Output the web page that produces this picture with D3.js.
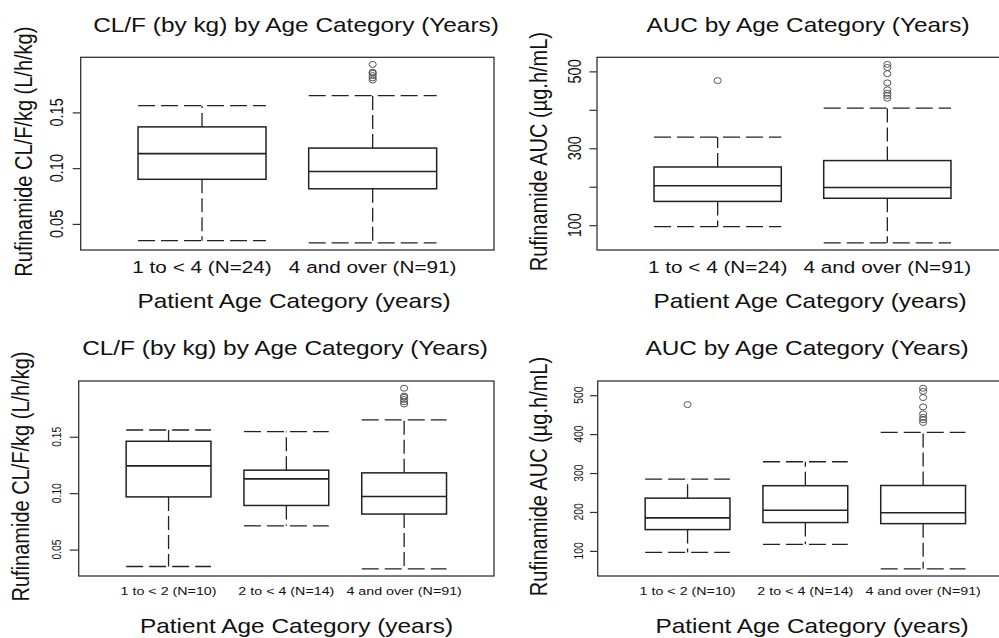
<!DOCTYPE html>
<html lang="en">
<head>
    <meta charset="UTF-8">
    <title>Rufinamide CL/F and AUC by age category</title>
    <style>
        body { margin: 0; background: #fff; }
        #chart { display: block; }
        text { font-family: "Liberation Sans", Arial, sans-serif; fill: #111; }
    </style>
</head>
<body>
    <svg id="chart" width="999" height="638"></svg>

    <script src="https://d3js.org/d3.v7.min.js"></script>
    <script>
        // categories
        const groupsTwo = ["1 to < 4 (N=24)", "4 and over (N=91)"];
        const groupsThree = ["1 to < 2 (N=10)", "2 to < 4 (N=14)", "4 and over (N=91)"];

        // box stats per group: [lower whisker, Q1, median, Q3, upper whisker]
        const clfTwo = [
            [0.035, 0.090, 0.113, 0.137, 0.156],
            [0.033, 0.0815, 0.097, 0.118, 0.165]
        ];
        const clfThree = [
            [0.035, 0.0967, 0.1242, 0.146, 0.156],
            [0.0711, 0.0891, 0.1127, 0.1204, 0.1546],
            [0.033, 0.0815, 0.097, 0.118, 0.165]
        ];
        const aucTwo = [
            [96, 161.8, 202.6, 251.3, 329],
            [54, 170, 198, 268, 404.4]
        ];
        const aucThree = [
            [96, 154.7, 184.9, 235.5, 284.5],
            [116.8, 172.8, 204.5, 267.5, 329],
            [54, 170, 198, 268, 404.4]
        ];

        // outliers per group
        const clfOutTwo = [[], [0.193, 0.186, 0.185, 0.183, 0.181, 0.179]];
        const clfOutThree = [[], [], [0.193, 0.186, 0.185, 0.183, 0.181, 0.179]];
        const aucOutTwo = [[476], [518, 510, 494, 470, 452, 443, 437, 430]];
        const aucOutThree = [[476], [], [518, 510, 494, 470, 452, 443, 437, 430]];

        // tick values and labels
        const clfTicks = [0.05, 0.10, 0.15];
        const clfTickLabels = ["0.05", "0.10", "0.15"];
        const aucTicks = [100, 200, 300, 400, 500];
        const aucTickLabelsTop = ["100", "", "300", "", "500"];
        const aucTickLabelsBottom = ["100", "200", "300", "400", "500"];

        const clfTitle = "CL/F (by kg) by Age Category (Years)";
        const aucTitle = "AUC by Age Category (Years)";
        const clfYLabel = "Rufinamide CL/F/kg (L/h/kg)";
        const aucYLabel = "Rufinamide AUC (\u00b5g.h/mL)";
        const xLabel = "Patient Age Category (years)";

        const svg = d3.select("#chart");
        const stretch = 1.22; // the original picture is a little wider than tall

        function label(g, txt, x, y, size, rotate) {
            g.append("text")
                .attr("transform", `translate(${x},${y}) scale(${stretch},1)` + (rotate ? " rotate(-90)" : ""))
                .attr("text-anchor", "middle")
                .style("font-size", size + "px")
                .text(txt);
        }

        function drawPanel(p) {
            const g = svg.append("g");

            const x = d3.scalePoint()
                .domain(p.groups)
                .range([p.left, p.right])
                .padding(p.pad);

            const all = p.stats.flat().concat(p.outliers.flat());
            const [lo, hi] = d3.extent(all);
            const ext = (hi - lo) * 0.04;
            const y = d3.scaleLinear()
                .domain([lo - ext, hi + ext])
                .range([p.bottom, p.top]);

            const bw = x.step() * p.boxFrac;

            // frame
            g.append("rect")
                .attr("x", p.left).attr("y", p.top)
                .attr("width", p.right - p.left).attr("height", p.bottom - p.top)
                .attr("fill", "none").attr("stroke", "#333").attr("stroke-width", 1.3);

            // y axis ticks
            const yAxis = d3.axisLeft(y)
                .tickValues(p.ticks)
                .tickSize(p.tickLen)
                .tickFormat("");
            const ax = g.append("g")
                .attr("transform", `translate(${p.left},0)`)
                .call(yAxis);
            ax.select(".domain").remove();
            ax.selectAll("line").attr("stroke", "#333").attr("stroke-width", 1.2);

            p.ticks.forEach((t, i) => {
                if (p.tickLabels[i]) label(g, p.tickLabels[i], p.left - p.labelGap, y(t), p.tickSize, true);
            });

            // boxes
            const boxes = g.selectAll(".box")
                .data(p.groups.map((k, i) => ({ k, s: p.stats[i], o: p.outliers[i] })))
                .enter().append("g").attr("class", "box");

            boxes.each(function (d) {
                const b = d3.select(this);
                const cx = x(d.k);
                const [w0, q1, md, q3, w1] = d.s;
                const dashV = "14,5";
                const dashH = "17,6";

                b.append("line")
                    .attr("x1", cx).attr("x2", cx).attr("y1", y(q3)).attr("y2", y(w1))
                    .attr("stroke", "#222").attr("stroke-width", 1.3).attr("stroke-dasharray", dashV);
                b.append("line")
                    .attr("x1", cx).attr("x2", cx).attr("y1", y(q1)).attr("y2", y(w0))
                    .attr("stroke", "#222").attr("stroke-width", 1.3).attr("stroke-dasharray", dashV);
                [w0, w1].forEach(v => {
                    b.append("line")
                        .attr("x1", cx - bw / 2).attr("x2", cx + bw / 2).attr("y1", y(v)).attr("y2", y(v))
                        .attr("stroke", "#222").attr("stroke-width", 1.3).attr("stroke-dasharray", dashH);
                });
                b.append("rect")
                    .attr("x", cx - bw / 2).attr("y", y(q3))
                    .attr("width", bw).attr("height", y(q1) - y(q3))
                    .attr("fill", "#fff").attr("stroke", "#222").attr("stroke-width", 1.5);
                b.append("line")
                    .attr("x1", cx - bw / 2).attr("x2", cx + bw / 2).attr("y1", y(md)).attr("y2", y(md))
                    .attr("stroke", "#222").attr("stroke-width", 1.6);

                b.selectAll("ellipse").data(d.o).enter().append("ellipse")
                    .attr("cx", cx).attr("cy", v => y(v))
                    .attr("rx", 3.6).attr("ry", 3)
                    .attr("fill", "none").attr("stroke", "#555").attr("stroke-width", 1);

                label(b, d.k, cx, p.catY, p.catSize, false);
            });

            label(g, p.title, p.titleX, p.titleY, 20, false);
            label(g, xLabel, p.xLabelX, p.xLabelY, 20, false);
            label(g, p.yLabel, p.yLabelX, (p.top + p.bottom) / 2 - 2, 20, true);
        }

        drawPanel({
            groups: groupsTwo, stats: clfTwo, outliers: clfOutTwo,
            ticks: clfTicks, tickLabels: clfTickLabels,
            left: 80.7, right: 494, top: 57.3, bottom: 250, pad: 0.711, boxFrac: 0.75,
            tickLen: 8, labelGap: 17.7, tickSize: 14.5, catY: 273.3, catSize: 17,
            title: clfTitle, titleX: 296, titleY: 31.7,
            xLabelX: 294, xLabelY: 308.3,
            yLabel: clfYLabel, yLabelX: 31.5
        });
        drawPanel({
            groups: groupsTwo, stats: aucTwo, outliers: aucOutTwo,
            ticks: aucTicks, tickLabels: aucTickLabelsTop,
            left: 597, right: 1008, top: 57.3, bottom: 250, pad: 0.711, boxFrac: 0.75,
            tickLen: 7.5, labelGap: 16.5, tickSize: 14.5, catY: 273.3, catSize: 17,
            title: aucTitle, titleX: 808, titleY: 31.7,
            xLabelX: 810, xLabelY: 308.3,
            yLabel: aucYLabel, yLabelX: 546.5
        });
        drawPanel({
            groups: groupsThree, stats: clfThree, outliers: clfOutThree,
            ticks: clfTicks, tickLabels: clfTickLabels,
            left: 78.7, right: 494, top: 381, bottom: 576, pad: 0.763, boxFrac: 0.72,
            tickLen: 9, labelGap: 17.7, tickSize: 10.3, catY: 595, catSize: 11.7,
            title: clfTitle, titleX: 285, titleY: 355,
            xLabelX: 296.5, xLabelY: 633,
            yLabel: clfYLabel, yLabelX: 28.5
        });
        drawPanel({
            groups: groupsThree, stats: aucThree, outliers: aucOutThree,
            ticks: aucTicks, tickLabels: aucTickLabelsBottom,
            left: 597.7, right: 1013, top: 381, bottom: 576, pad: 0.763, boxFrac: 0.72,
            tickLen: 7.7, labelGap: 14.7, tickSize: 10.3, catY: 595, catSize: 11.7,
            title: aucTitle, titleX: 807, titleY: 355,
            xLabelX: 812, xLabelY: 633,
            yLabel: aucYLabel, yLabelX: 546.5
        });
    </script>
</body>
</html>
